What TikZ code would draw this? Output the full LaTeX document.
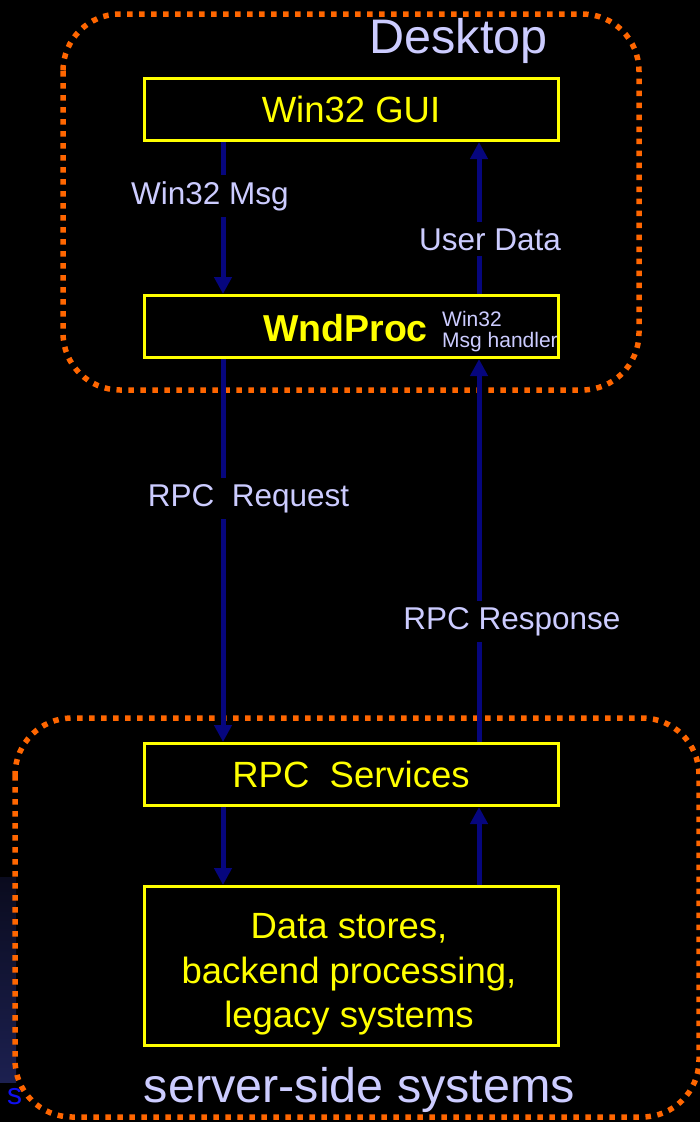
\documentclass[tikz,border=0pt]{standalone}
\usepackage{fontspec}
\setmainfont{Liberation Sans}
\usetikzlibrary{arrows.meta}
\definecolor{navyarrow}{HTML}{06067E}
\definecolor{lav}{HTML}{CCCCFF}
\definecolor{yel}{HTML}{FFFF00}
\definecolor{org}{HTML}{FF6600}
\definecolor{sblue}{HTML}{1010F0}
\definecolor{navytop}{HTML}{0A0B1E}
\definecolor{navybot}{HTML}{1C2050}
\begin{document}
\begin{tikzpicture}[x=1pt,y=-1pt,
  box/.style={draw=yel, line width=3pt, minimum width=414pt, inner sep=0pt, text=yel},
  boxfont/.style={font=\fontsize{36.5}{44}\selectfont},
  lbl/.style={text=lav, fill=black, inner xsep=3pt, inner ysep=6pt, font=\fontsize{31.5}{36}\selectfont},
  arr/.style={draw=navyarrow, line width=5pt, -{Triangle[width=17pt,length=17pt]}},
  dotbox/.style={draw=org, line width=5.5pt, dash pattern=on 5.5pt off 6.5pt, rounded corners=57pt},
  title/.style={text=lav, inner sep=0pt, font=\fontsize{48.5}{56}\selectfont}]
\fill[black] (0,0) rectangle (700,1122);
\useasboundingbox (0,0) rectangle (700,1122);
\clip (0,0) rectangle (700,1122);
% dark navy strip at left
\shade[top color=navytop, bottom color=navybot] (0,877) rectangle (16,1082);
% region boxes
\draw[dotbox] (63,14) rectangle (639,390);
\draw[dotbox] (15,718) rectangle (699,1117);
\node[title, anchor=base] (desktop) at (458.5,53) {Desktop};
\node[title, anchor=base] (server) at (359.5,1102) {server-side systems};
% boxes
\node[box, boxfont, minimum height=62pt] (gui) at (351,109.5) {Win32 GUI};
\node[box, minimum height=62pt] (wnd) at (351,326.5) {};
\node[text=yel, inner sep=0pt, anchor=base, font=\fontsize{37.5}{44}\bfseries\selectfont] (wndt) at (345.5,341) {WndProc};
\node[text=lav, inner sep=0pt, anchor=west, align=left, font=\fontsize{21}{21}\selectfont] (wnds) at (442,332) {Win32\\Msg handler};
\node[box, boxfont, minimum height=62pt] (rpc) at (351,774.5) {RPC\ \ Services};
\node[box, minimum height=159pt] (data) at (351,966) {};
\node[text=yel, inner sep=0pt, align=center, font=\fontsize{36.5}{44.5}\selectfont] (datat) at (349,974.5) {Data stores,\\backend processing,\\legacy systems};
% arrows
\coordinate (L) at (223,0);
\coordinate (R) at (479,0);
\draw[arr] (gui.south -| L) -- (wnd.north -| L);
\draw[arr] (wnd.north -| R) -- (gui.south -| R);
\draw[arr] (wnd.south -| L) -- (rpc.north -| L);
\draw[arr] (rpc.north -| R) -- (wnd.south -| R);
\draw[arr] (rpc.south -| L) -- (data.north -| L);
\draw[arr] (data.north -| R) -- (rpc.south -| R);
% labels
\node[lbl, anchor=base] (msg) at (210,204) {Win32 Msg};
\node[lbl, anchor=base] (user) at (490,250) {User Data};
\node[lbl, anchor=base] (req) at (248.5,506) {RPC\ \ Request};
\node[lbl, anchor=base] (resp) at (512,629) {RPC Response};
% stray letter
\node[text=sblue, inner sep=0pt, anchor=base west, font=\fontsize{30}{30}\selectfont] (s) at (7,1104) {s};
\end{tikzpicture}
\end{document}
